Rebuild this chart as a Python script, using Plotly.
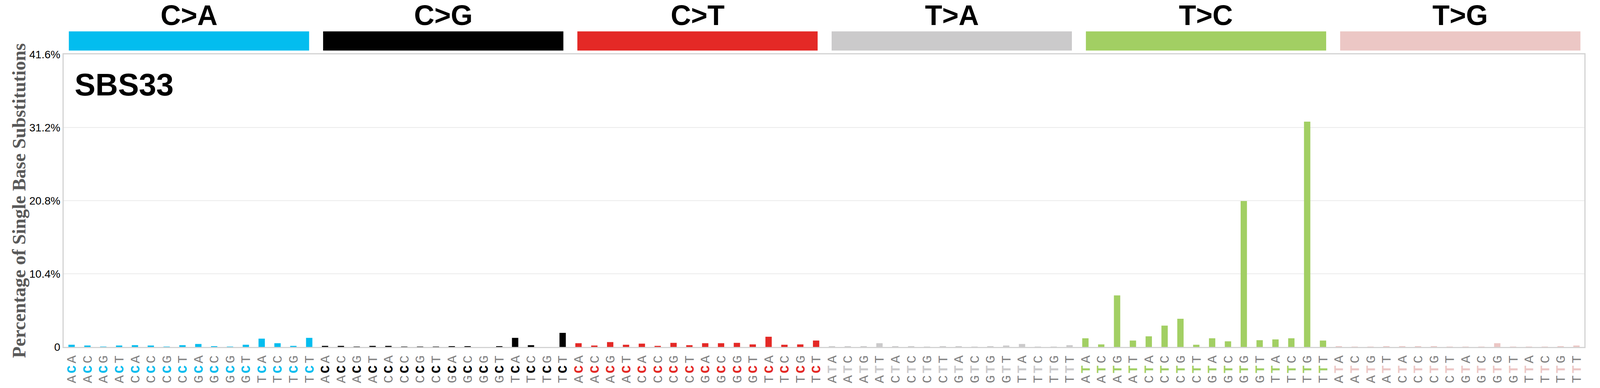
import plotly.graph_objects as go

# mutation classes, colours and trinucleotide flanks
mut_types = ["C>A", "C>G", "C>T", "T>A", "T>C", "T>G"]
mut_colors = ["#03BDEF", "#010101", "#E42926", "#CBCACB", "#A2CF63", "#ECC7C5"]
bases = ["A", "C", "G", "T"]

# percentages read from the SBS33 profile (5' base outer, 3' base inner)
ca_vals = [0.31, 0.20, 0.05, 0.20, 0.25, 0.20, 0.05, 0.25, 0.42, 0.09, 0.05, 0.31, 1.18, 0.53, 0.15, 1.29]
cg_vals = [0.15, 0.15, 0.04, 0.15, 0.15, 0.04, 0.04, 0.04, 0.09, 0.09, 0.00, 0.09, 1.29, 0.25, 0.00, 2.00]
ct_vals = [0.53, 0.20, 0.69, 0.31, 0.47, 0.15, 0.58, 0.25, 0.53, 0.53, 0.58, 0.36, 1.45, 0.31, 0.36, 0.91]
ta_vals = [0.09, 0.09, 0.09, 0.53, 0.09, 0.09, 0.04, 0.09, 0.09, 0.04, 0.09, 0.20, 0.42, 0.04, 0.04, 0.25]
tc_vals = [1.23, 0.36, 7.33, 0.91, 1.51, 3.03, 4.01, 0.31, 1.23, 0.80, 20.75, 0.96, 1.07, 1.23, 32.04, 0.91]
tg_vals = [0.09, 0.04, 0.04, 0.09, 0.09, 0.09, 0.09, 0.04, 0.04, 0.04, 0.53, 0.04, 0.04, 0.04, 0.09, 0.20]
all_vals = [ca_vals, cg_vals, ct_vals, ta_vals, tc_vals, tg_vals]

y_ticks = [0, 10.4, 20.8, 31.2, 41.6]
y_ticktext = ["0", "10.4%", "20.8%", "31.2%", "41.6%"]

fig = go.Figure()

cats = []
labels = []
for mt, col, vals in zip(mut_types, mut_colors, all_vals):
    ref = mt[0]
    xs = []
    for b5 in bases:
        for b3 in bases:
            key = f"{b5}[{mt}]{b3}"
            xs.append(key)
            cats.append(key)
            labels.append(
                f"<span style='letter-spacing:5px'>{b5}<b><span style='color:{col}'>{ref}</span></b>{b3}</span>"
            )
    fig.add_trace(go.Bar(
        x=xs,
        y=vals,
        marker_color=col,
        marker_line_width=0,
        name=mt,
        showlegend=False
    ))

# coloured header bars with the class names
shapes = []
annotations = []
for i, (mt, col) in enumerate(zip(mut_types, mut_colors)):
    x0 = 0.0034 + i * 0.1672
    shapes.append(dict(
        type="rect", xref="paper", yref="paper",
        x0=x0, x1=x0 + 0.158, y0=1.0131, y1=1.0785,
        fillcolor=col, line_width=0
    ))
    annotations.append(dict(
        text=f"<b>{mt}</b>", xref="paper", yref="paper",
        x=x0 + 0.079, y=1.134, xanchor="center", yanchor="middle",
        showarrow=False,
        font=dict(family="Arial, Liberation Sans", size=72, color="black")
    ))

# signature name
annotations.append(dict(
    text="<b>SBS33</b>", xref="paper", yref="paper",
    x=0.0067, y=0.8966, xanchor="left", yanchor="middle",
    showarrow=False,
    font=dict(family="Arial, Liberation Sans", size=80, color="black")
))

# y axis title
annotations.append(dict(
    text="<b>Percentage of Single Base Substitutions</b>", xref="paper", yref="paper",
    x=-0.0295, y=0.5, xanchor="center", yanchor="middle",
    textangle=-90, showarrow=False,
    font=dict(family="Times New Roman, Liberation Serif", size=48, color="#595959")
))

# the browser viewport is 4096 px wide, so the 4393 px layout is scaled to it
fig.update_layout(
    width=4096,
    height=992,
    margin=dict(l=163, r=40, t=139, b=89),
    plot_bgcolor="white",
    paper_bgcolor="white",
    bargap=0.6,
    shapes=shapes,
    annotations=annotations,
)

fig.update_xaxes(
    type="category",
    categoryorder="array",
    categoryarray=cats,
    tickvals=cats,
    ticktext=labels,
    tickangle=-90,
    tickfont=dict(family="Courier New, Liberation Mono", size=34, color="#808080"),
    range=[-0.5, 95.5],
    showgrid=False,
    showline=True,
    mirror=True,
    linecolor="#d3d3d3",
    linewidth=3,
    ticks="",
)

fig.update_yaxes(
    range=[0, 41.6],
    tickvals=y_ticks,
    ticktext=y_ticktext,
    tickfont=dict(family="Arial, Liberation Sans", size=28, color="black"),
    showgrid=True,
    gridcolor="#ebebeb",
    gridwidth=2,
    zeroline=False,
    showline=True,
    mirror=True,
    linecolor="#d3d3d3",
    linewidth=3,
    ticks="",
)

fig.write_html(
    "out.html",
    config={"displayModeBar": False},
    post_script="document.body.style.margin='0';"
)
